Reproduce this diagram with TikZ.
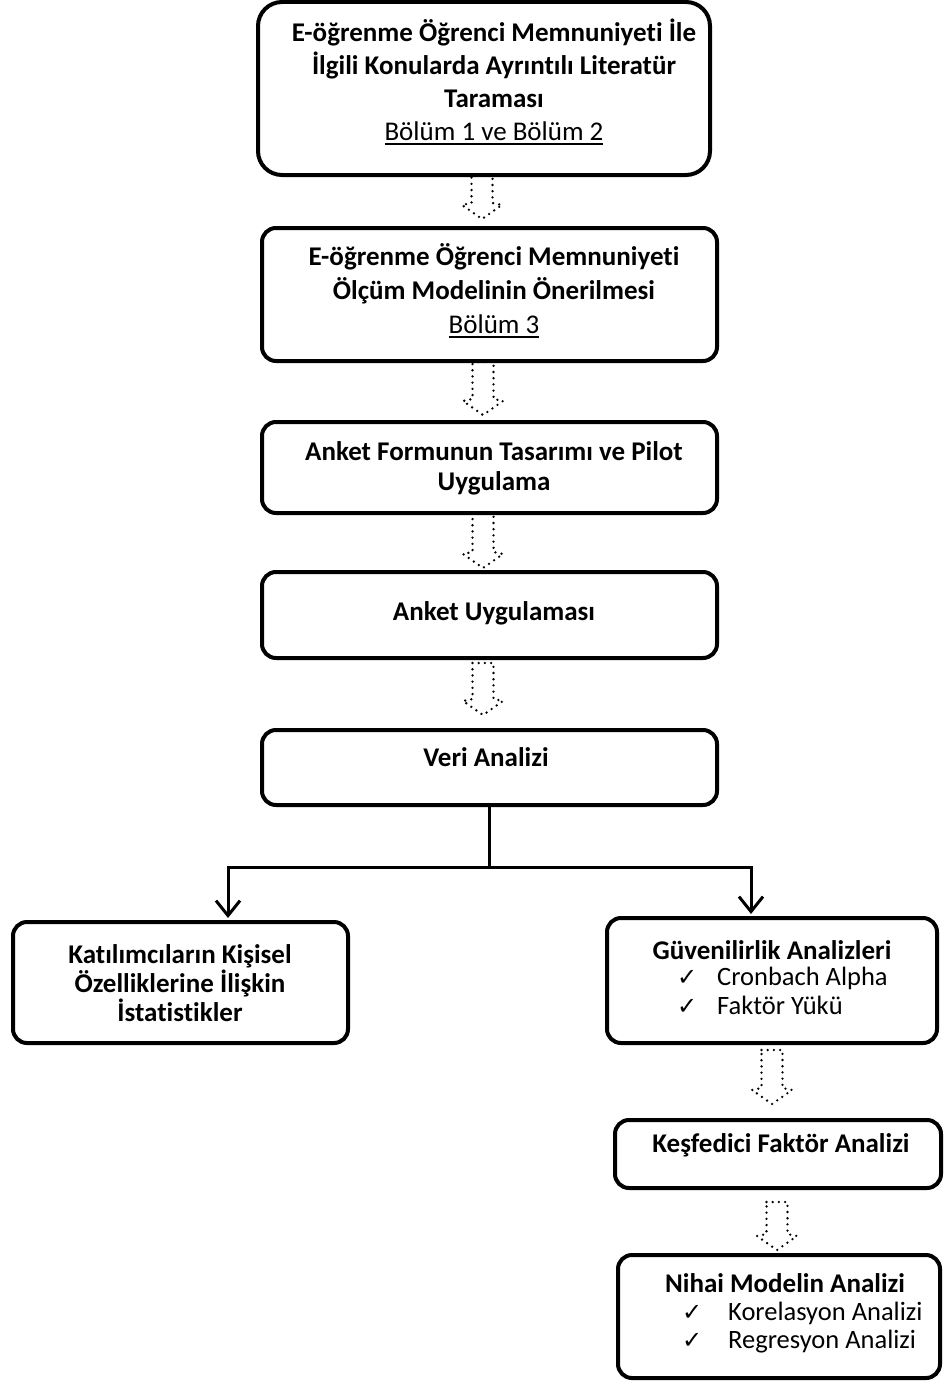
\documentclass[tikz,border=0pt]{standalone}
\usepackage{fontspec}
\setmainfont[Ligatures=NoCommon]{Carlito}
\newfontfamily\symfont{DejaVu Sans}
\usetikzlibrary{arrows.meta,calc}

% underline with a rule of fixed thickness
\newcommand{\ulined}[1]{\setbox0\hbox{#1}\rlap{\rule[-4.5pt]{\wd0}{2pt}}\box0}
% check mark followed by a fixed indent
\newcommand{\tick}[1]{\makebox[#1][l]{\symfont\fontsize{24}{24}\selectfont ✓}}

% hollow dotted block arrow: from node #1 to node #2 at x=#3,
% starting #4 below #1 and ending #5 above #2
\newcommand{\hollowarrow}[5]{%
  \draw[dotarrow] let \p1=(#1.south), \p2=(#2.north) in
    (#3pt-10.5pt,\y1-#4pt) -- (#3pt+10.5pt,\y1-#4pt) -- (#3pt+10.5pt,\y2+#5pt+16pt)
    -- (#3pt+20pt,\y2+#5pt+14pt) -- (#3pt,\y2+#5pt) -- (#3pt-20pt,\y2+#5pt+14pt)
    -- (#3pt-10.5pt,\y2+#5pt+16pt) -- cycle;}

\begin{document}
\begin{tikzpicture}[x=1pt,y=-1pt,
  box/.style={draw, line width=4pt, rounded corners=14pt, anchor=north west, inner sep=0pt, outer sep=0pt},
  boxtext/.style={font=\fontsize{27}{33}\selectfont\bfseries, align=center, inner sep=0pt},
  itemtext/.style={font=\fontsize{26.5}{30}\selectfont, anchor=west, inner sep=0pt},
  link/.style={line width=3pt},
  linkarrow/.style={link, -{Straight Barb[length=15pt,width=24pt]}, shorten >=4pt},
  dotarrow/.style={line width=2.6pt, line cap=round, line join=round, dash pattern=on 0pt off 6.2pt}
]
\useasboundingbox (0,0) rectangle (943,1381);

% main column
\node[box, rounded corners=24pt, minimum width=452pt, minimum height=173pt] (b1) at (258,2) {};
\node[box, minimum width=455pt, minimum height=133pt] (b2) at (262,228) {};
\node[box, minimum width=455pt, minimum height=91pt] (b3) at (262,422) {};
\node[box, minimum width=455pt, minimum height=86pt] (b4) at (262,572) {};
\node[box, minimum width=455pt, minimum height=75pt] (b5) at (262,730) {};

\node[boxtext, font=\fontsize{27}{33}\selectfont\bfseries] (t1) at (494,82)
  {E-öğrenme Öğrenci Memnuniyeti İle\\İlgili Konularda Ayrıntılı Literatür\\Taraması\\{\mdseries\ulined{Bölüm 1 ve Bölüm 2}}};
\node[boxtext, font=\fontsize{27}{34}\selectfont\bfseries] (t2) at (494,291)
  {E-öğrenme Öğrenci Memnuniyeti\\Ölçüm Modelinin Önerilmesi\\{\mdseries\ulined{Bölüm 3}}};
\node[boxtext, font=\fontsize{27}{30}\selectfont\bfseries] (t3) at (494,468)
  {Anket Formunun Tasarımı ve Pilot\\Uygulama};
\node[boxtext] (t4) at (494,613) {Anket Uygulaması};
\node[boxtext] (t5) at (486,757) {Veri Analizi};

% branches
\node[box, minimum width=335pt, minimum height=121pt] (l1) at (13,922) {};
\node[box, minimum width=330pt, minimum height=125pt] (r1) at (607,918) {};
\node[box, minimum width=326pt, minimum height=68pt] (r2) at (615,1120) {};
\node[box, minimum width=322pt, minimum height=123pt] (r3) at (618,1255) {};

\node[boxtext, font=\fontsize{27}{29}\selectfont\bfseries] (tl) at (180,983)
  {Katılımcıların Kişisel\\Özelliklerine İlişkin\\İstatistikler};

\node[boxtext] (tr1) at (772,950) {Güvenilirlik Analizleri};
\node[itemtext] (tr1a) at (677,978) {\tick{40pt}Cronbach Alpha};
\node[itemtext] (tr1b) at (677,1005) {\tick{40pt}Faktör Yükü};

\node[boxtext] (tr2) at (781,1145) {Keşfedici Faktör Analizi};

\node[boxtext] (tr3) at (785,1283) {Nihai Modelin Analizi};
\node[itemtext] (tr3a) at (682,1313) {\tick{46pt}Korelasyon Analizi};
\node[itemtext] (tr3b) at (682,1342) {\tick{46pt}Regresyon Analizi};

% dotted block arrows between steps
\hollowarrow{b1}{b2}{482}{0}{9}
\hollowarrow{b2}{b3}{483}{1}{7}
\hollowarrow{b3}{b4}{483}{0}{4}
\hollowarrow{b4}{b5}{483}{5}{15}
\hollowarrow{r1}{r2}{772}{7}{16}
\hollowarrow{r2}{r3}{777}{14}{5}

% split after data analysis
\coordinate (jn) at ($(b5.south)+(0,62)$);
\coordinate (lx) at (228,0);
\coordinate (rx) at (751,0);
\draw[link] (b5.south) -- (jn);
\draw[linkarrow] (jn) -| (l1.north -| lx);
\draw[linkarrow] (jn) -| (r1.north -| rx);
\end{tikzpicture}
\end{document}
